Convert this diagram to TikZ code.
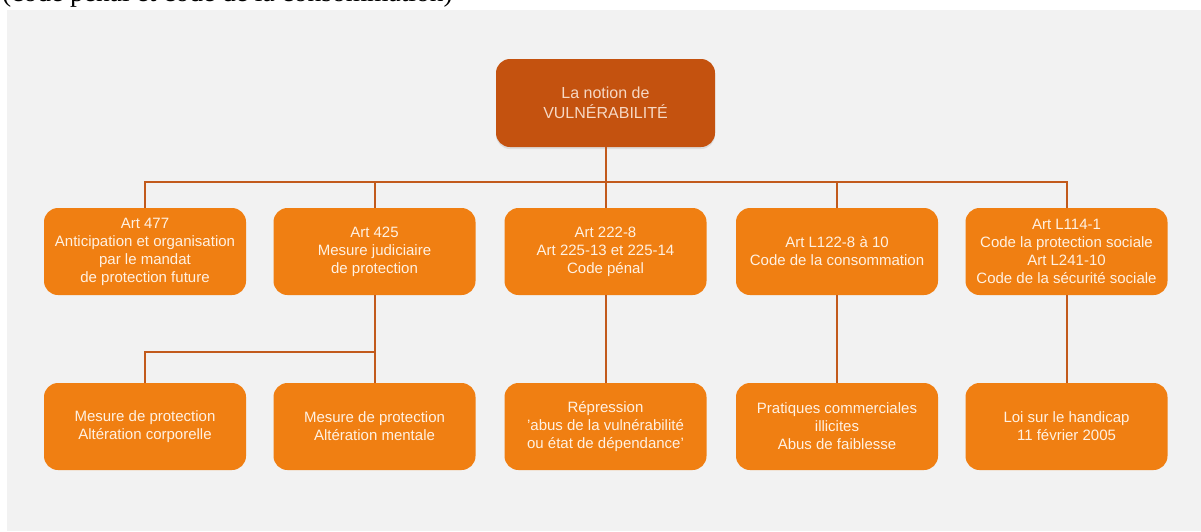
\documentclass[tikz,border=0pt]{standalone}
\usepackage{fontspec}
\setmainfont{Liberation Sans}
\newfontfamily\titrefont{Liberation Serif}
\usetikzlibrary{shadows}
\definecolor{fond}{HTML}{F2F2F2}
\definecolor{orangeclair}{HTML}{F07F12}
\definecolor{orangefonce}{HTML}{C4520F}
\definecolor{trait}{HTML}{C25A1C}
\definecolor{texte}{HTML}{FFF1E2}
\definecolor{texteracine}{HTML}{F6D8C4}
\begin{document}
\begin{tikzpicture}[x=1pt, y=-1pt,
	boite/.style={fill=orangeclair, rounded corners=14pt, minimum width=202pt, minimum height=87pt, inner sep=0pt, align=center, text=texte, font=\fontsize{15}{18}\selectfont},
	racine/.style={fill=orangefonce, rounded corners=14pt, minimum width=219pt, minimum height=88pt, inner sep=0pt, align=center, text=texteracine, font=\fontsize{16}{20}\selectfont, drop shadow={shadow xshift=0pt, shadow yshift=-2pt, opacity=.18}},
	lien/.style={draw=trait, line width=2pt}]
				\useasboundingbox (0,0) rectangle (1201,531);
				\fill[white] (0,0) rectangle (1201,531);
				\fill[fond] (7,10) rectangle (1201,531);
				
				\begin{scope}
					\clip (0,0) rectangle (1201,10);
					\node[anchor=base west, inner sep=0pt, font=\titrefont\fontsize{27.5}{30}\selectfont] (titre) at (2,1.5) {(code pénal et code de la consommation)};
				\end{scope}
				
				\coordinate (R) at (605.5, 103);
				\coordinate (A1) at (145, 251.5);
				\coordinate (A2) at (374.5, 251.5);
				\coordinate (A3) at (605.5, 251.5);
				\coordinate (A4) at (837, 251.5);
				\coordinate (A5) at (1066.5, 251.5);
				\coordinate (B1) at (145, 426.5);
				\coordinate (B2) at (374.5, 426.5);
				\coordinate (B3) at (605.5, 426.5);
				\coordinate (B4) at (837, 426.5);
				\coordinate (B5) at (1066.5, 426.5);
				\coordinate (bus) at (0, 182);
				\coordinate (fourche) at (374.5, 352);
				
				\node[racine] (notion) at (R) {La notion de\\VULNÉRABILITÉ};
				
				\node[boite] (art1) at (A1) {Art 477\\Anticipation et organisation\\par le mandat\\de protection future};
				\node[boite] (art2) at (A2) {Art 425\\Mesure judiciaire\\de protection};
				\node[boite] (art3) at (A3) {Art 222-8\\Art 225-13 et 225-14\\Code pénal};
				\node[boite] (art4) at (A4) {Art L122-8 à 10\\Code de la consommation};
				\node[boite] (art5) at (A5) {Art L114-1\\Code la protection sociale\\Art L241-10\\Code de la sécurité sociale};
				
				\node[boite] (mesure1) at (B1) {Mesure de protection\\Altération corporelle};
				\node[boite] (mesure2) at (B2) {Mesure de protection\\Altération mentale};
				\node[boite] (repression) at (B3) {Répression\\'abus de la vulnérabilité\\ou état de dépendance'};
				\node[boite] (pratiques) at (B4) {Pratiques commerciales\\illicites\\Abus de faiblesse};
				\node[boite] (handicap) at (B5) {Loi sur le handicap\\11 février 2005};
				
				\draw[lien] (art1.north) |- (art5.north |- bus) -- (art5.north);
				\draw[lien] (notion.south) -- (notion.south |- bus);
				\foreach \i in {2,3,4}
					\draw[lien] (art\i.north) -- (art\i.north |- bus);
				
				\draw[lien] (art2.south) -- (mesure2.north);
				\draw[lien] (fourche) -| (mesure1.north);
				\draw[lien] (art3.south) -- (repression.north);
				\draw[lien] (art4.south) -- (pratiques.north);
				\draw[lien] (art5.south) -- (handicap.north);
			\end{tikzpicture}
\end{document}
